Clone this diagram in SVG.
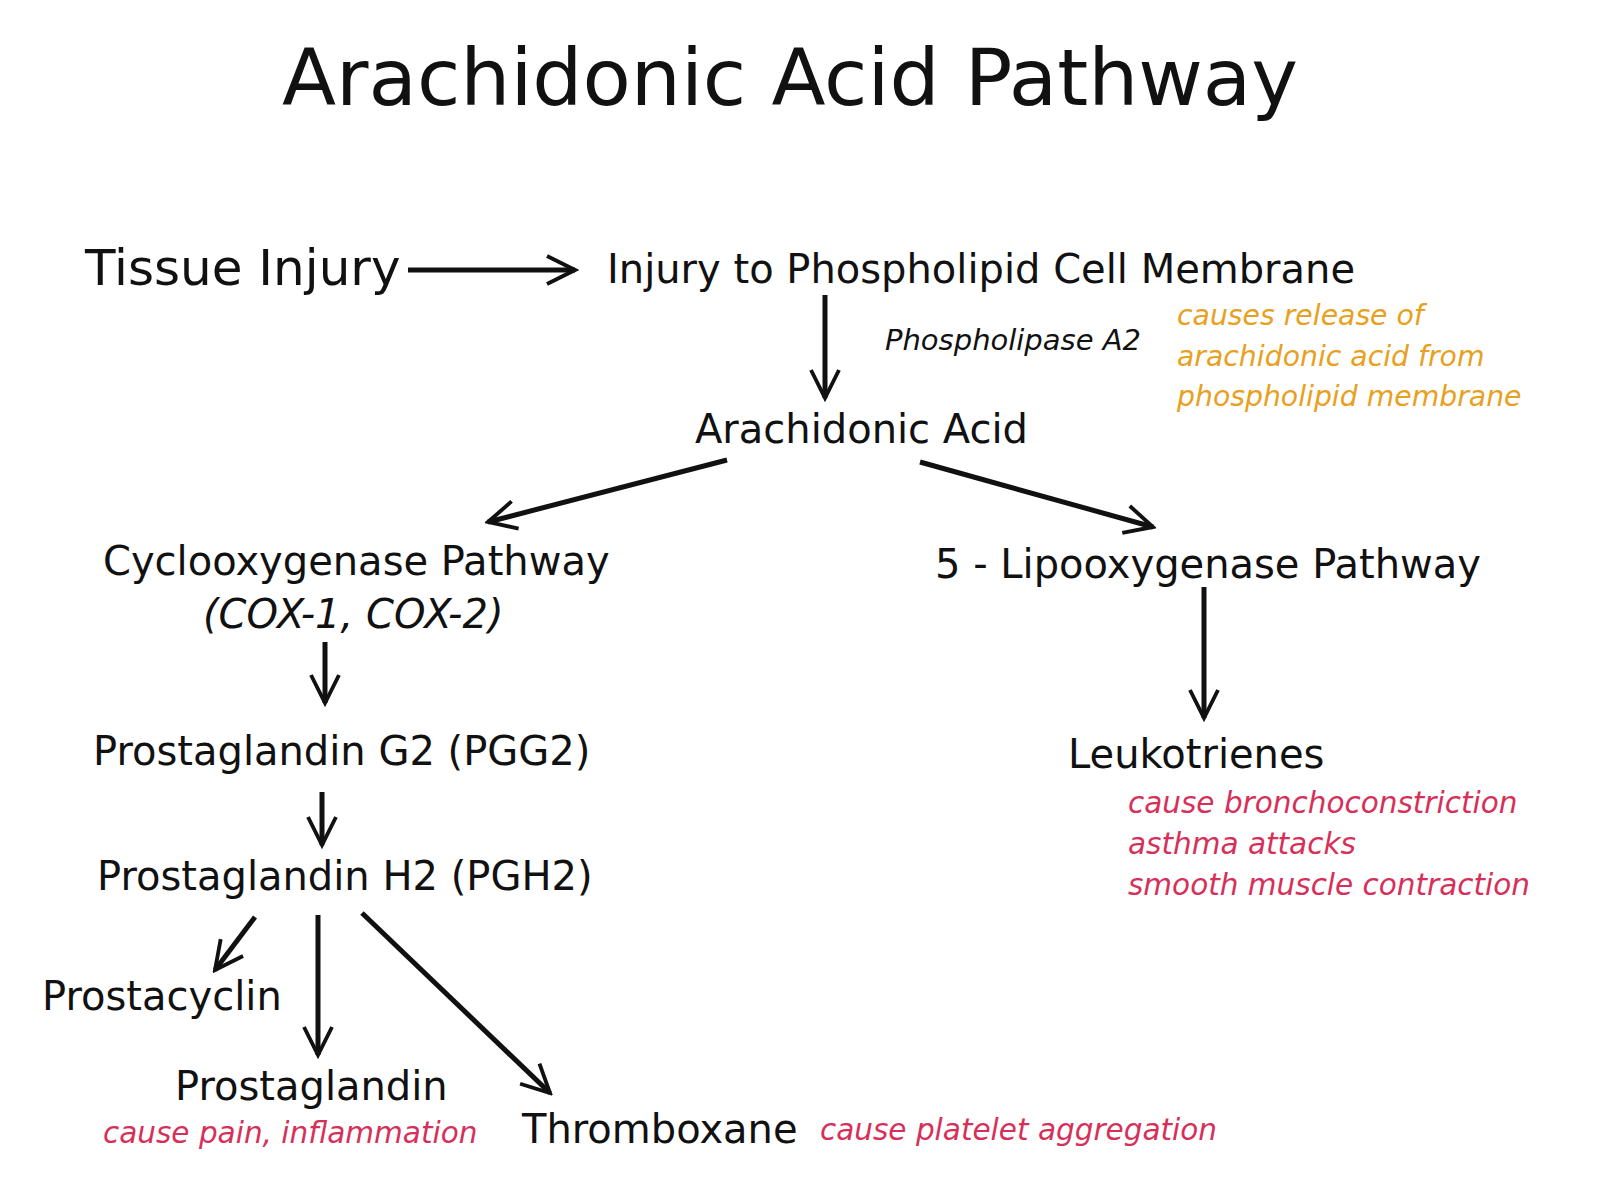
<svg xmlns="http://www.w3.org/2000/svg" width="1600" height="1200" viewBox="0 0 1600 1200">
<style>
text{font-family:"DejaVu Sans","Liberation Sans",sans-serif;fill:#111}
.n{font-size:40px}
.i{font-style:italic}
.o{fill:#e8a020;font-size:28.3px;font-style:italic}
.p{fill:#d6305a;font-size:29.5px;font-style:italic}
.c line{stroke:#111;stroke-width:5;marker-end:url(#a)}
</style>
<defs><marker id="a" viewBox="0 0 10 10" refX="9" refY="5" markerWidth="7" markerHeight="7" orient="auto" markerUnits="strokeWidth"><path d="M1,1 L9,5 L1,9" fill="none" stroke="#111" stroke-width="1.1"/></marker></defs>
<rect width="1600" height="1200" fill="#fff"/>
<text x="790" y="105" font-size="79" text-anchor="middle">Arachidonic Acid Pathway</text>
<g id="tissue"><text x="85" y="285" font-size="50">Tissue Injury</text></g>
<g id="membrane"><text class="n" x="607" y="283">Injury to Phospholipid Cell Membrane</text>
<text class="o" x="1177" y="325">causes release of</text><text class="o" x="1177" y="366">arachidonic acid from</text><text class="o" x="1177" y="406">phospholipid membrane</text></g>
<g id="pla2"><text class="i" x="885" y="350" font-size="29">Phospholipase A2</text></g>
<g id="aa"><text class="n" x="695" y="443">Arachidonic Acid</text></g>
<g id="cox"><text class="n" x="103" y="575">Cyclooxygenase Pathway</text><text class="n i" x="203" y="628">(COX-1, COX-2)</text></g>
<g id="lox"><text class="n" x="935" y="578">5 - Lipooxygenase Pathway</text></g>
<g id="leuk"><text class="n" x="1068" y="768">Leukotrienes</text>
<text class="p" x="1128" y="813">cause bronchoconstriction</text><text class="p" x="1128" y="854">asthma attacks</text><text class="p" x="1128" y="895">smooth muscle contraction</text></g>
<g id="pgg2"><text class="n" x="93" y="765">Prostaglandin G2 (PGG2)</text></g>
<g id="pgh2"><text class="n" x="97" y="890">Prostaglandin H2 (PGH2)</text></g>
<g id="prostacyclin"><text class="n" x="42" y="1010">Prostacyclin</text></g>
<g id="pg"><text class="n" x="175" y="1100">Prostaglandin</text><text class="p" x="103" y="1143">cause pain, inflammation</text></g>
<g id="tx"><text class="n" x="522" y="1143">Thromboxane</text><text class="p" x="820" y="1140">cause platelet aggregation</text></g>
<g class="c">
<line x1="408" y1="270" x2="575" y2="270"/>
<line x1="825" y1="295" x2="825" y2="398"/>
<line x1="727" y1="460" x2="488" y2="522"/>
<line x1="920" y1="462" x2="1153" y2="527"/>
<line x1="1204" y1="587" x2="1204" y2="718"/>
<line x1="325" y1="642" x2="325" y2="703"/>
<line x1="322" y1="792" x2="322" y2="845"/>
<line x1="255" y1="917" x2="215" y2="970"/>
<line x1="318" y1="915" x2="318" y2="1055"/>
<line x1="362" y1="913" x2="550" y2="1093"/>
</g>
</svg>
